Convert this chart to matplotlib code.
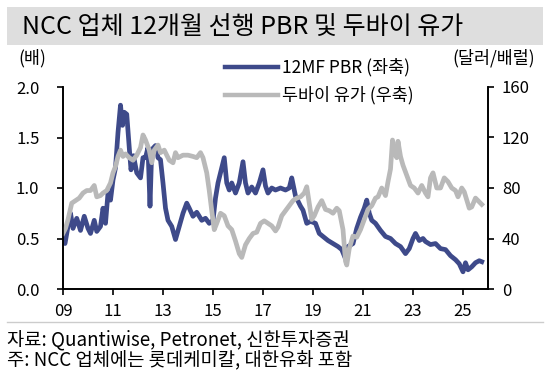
import matplotlib
matplotlib.use("Agg")
from matplotlib import pyplot as plt
from matplotlib.patches import Rectangle
from matplotlib.lines import Line2D

plt.rcParams['font.family'] = ['Noto Sans CJK KR', 'DejaVu Sans']

# 12MF PBR (left axis)
pbr_years = [2009.0, 2009.08, 2009.2, 2009.3, 2009.4, 2009.55, 2009.7, 2009.85, 2010.0, 2010.1,
             2010.25, 2010.35, 2010.5, 2010.6, 2010.7, 2010.8, 2010.9, 2011.0, 2011.1, 2011.2,
             2011.3, 2011.38, 2011.45, 2011.55, 2011.65, 2011.72, 2011.82, 2011.95, 2012.1, 2012.2,
             2012.3, 2012.4, 2012.48, 2012.55, 2012.7, 2012.8, 2012.9, 2013.0, 2013.1, 2013.2,
             2013.35, 2013.5, 2013.65, 2013.8, 2013.95, 2014.05, 2014.2, 2014.35, 2014.55, 2014.7,
             2014.85, 2015.0, 2015.1, 2015.2, 2015.3, 2015.45, 2015.55, 2015.65, 2015.75, 2015.9,
             2016.05, 2016.2, 2016.3, 2016.4, 2016.55, 2016.7, 2016.85, 2017.0, 2017.1, 2017.2,
             2017.35, 2017.5, 2017.7, 2017.9, 2018.05, 2018.15, 2018.3, 2018.5, 2018.6, 2018.75,
             2018.9, 2019.1, 2019.25, 2019.4, 2019.6, 2019.8, 2020.0, 2020.15, 2020.3, 2020.4,
             2020.6, 2020.75, 2020.9, 2021.05, 2021.15, 2021.25, 2021.35, 2021.5, 2021.7, 2021.9,
             2022.1, 2022.3, 2022.5, 2022.7, 2022.85, 2023.0, 2023.1, 2023.25, 2023.4, 2023.5,
             2023.7, 2023.9, 2024.1, 2024.3, 2024.5, 2024.7, 2024.85, 2025.0, 2025.1, 2025.2,
             2025.35, 2025.5, 2025.65, 2025.75]
pbr = [0.49, 0.45, 0.62, 0.75, 0.60, 0.70, 0.58, 0.72, 0.60, 0.55,
       0.68, 0.57, 0.62, 0.80, 0.65, 0.95, 0.88, 1.08, 1.20, 1.55,
       1.82, 1.62, 1.75, 1.73, 1.40, 1.18, 1.32, 1.15, 1.10, 1.30,
       1.30, 1.40, 0.82, 1.38, 1.42, 1.30, 1.28, 1.05, 0.80, 0.68,
       0.62, 0.49, 0.62, 0.75, 0.85, 0.80, 0.72, 0.76, 0.68, 0.70,
       0.65, 0.68, 0.90, 1.05, 1.15, 1.30, 1.05, 0.98, 1.05, 0.95,
       1.05, 1.26, 1.05, 0.95, 1.01, 0.95, 1.05, 1.18, 1.02, 0.95,
       1.00, 0.98, 1.00, 0.98, 1.00, 1.10, 0.92, 0.82, 0.78, 0.65,
       0.67, 0.65, 0.55, 0.52, 0.48, 0.45, 0.42, 0.39, 0.30, 0.42,
       0.45, 0.60, 0.71, 0.80, 0.88, 0.75, 0.68, 0.65, 0.58, 0.52,
       0.50, 0.45, 0.42, 0.35, 0.40, 0.50, 0.55, 0.48, 0.50, 0.47,
       0.44, 0.45, 0.40, 0.39, 0.33, 0.29, 0.25, 0.17, 0.26, 0.19,
       0.22, 0.26, 0.28, 0.27]

# Dubai crude, USD/bbl (right axis)
oil_years = [2009.0, 2009.1, 2009.2, 2009.35, 2009.5, 2009.65, 2009.8, 2009.95, 2010.1, 2010.25,
             2010.35, 2010.5, 2010.6, 2010.75, 2010.9, 2011.0, 2011.1, 2011.2, 2011.3, 2011.4,
             2011.5, 2011.65, 2011.8, 2011.95, 2012.1, 2012.2, 2012.3, 2012.45, 2012.55, 2012.65,
             2012.8, 2012.9, 2013.05, 2013.15, 2013.25, 2013.4, 2013.5, 2013.6, 2013.8, 2014.0,
             2014.2, 2014.35, 2014.5, 2014.6, 2014.75, 2014.85, 2014.95, 2015.05, 2015.15, 2015.3,
             2015.45, 2015.6, 2015.75, 2015.9, 2016.05, 2016.15, 2016.3, 2016.45, 2016.6, 2016.75,
             2016.9, 2017.05, 2017.2, 2017.35, 2017.5, 2017.6, 2017.75, 2017.9, 2018.05, 2018.2,
             2018.35, 2018.5, 2018.65, 2018.75, 2018.85, 2018.95, 2019.05, 2019.2, 2019.35, 2019.5,
             2019.65, 2019.8, 2019.95, 2020.05, 2020.2, 2020.3, 2020.35, 2020.45, 2020.6, 2020.75,
             2020.9, 2021.05, 2021.2, 2021.35, 2021.5, 2021.6, 2021.75, 2021.9, 2022.0, 2022.1,
             2022.18, 2022.25, 2022.35, 2022.4, 2022.5, 2022.6, 2022.75, 2022.9, 2023.05, 2023.2,
             2023.35, 2023.5, 2023.6, 2023.7, 2023.8, 2023.95, 2024.1, 2024.25, 2024.4, 2024.55,
             2024.7, 2024.8, 2024.95, 2025.05, 2025.25, 2025.35, 2025.5, 2025.6, 2025.75]
oil = [44, 48, 55, 68, 70, 72, 76, 78, 78, 82,
       73, 74, 76, 78, 84, 92, 97, 105, 110, 105,
       107, 104, 102, 106, 112, 122, 118, 110, 100, 110,
       114, 108, 110, 106, 102, 100, 108, 104, 106, 106,
       105, 104, 108, 104, 92, 78, 62, 47, 52, 60,
       58, 50, 47, 38, 28, 25, 35, 40, 44, 45,
       52, 54, 52, 50, 46, 49, 58, 62, 66, 70,
       72, 73, 76, 81, 68, 55, 58, 65, 70, 63,
       62, 60, 64, 62, 47, 22, 19, 32, 42, 41,
       47, 55, 63, 66, 72, 73, 80, 74, 85, 95,
       118, 108, 104, 117, 105, 98, 90, 82, 80, 76,
       82, 76, 73, 88, 92, 80, 80, 88, 85, 80,
       78, 73, 80, 77, 64, 65, 72, 70, 67]

year_ticks = [2009, 2011, 2013, 2015, 2017, 2019, 2021, 2023, 2025]
year_labels = ['09', '11', '13', '15', '17', '19', '21', '23', '25']

blue = '#3e4a8a'
grey = '#b9b9b9'
W, H = 560.0, 373.0

fig = plt.figure(figsize=(5.6, 3.73), dpi=100)
ax = fig.add_axes([63 / W, 1 - 289 / H, (488 - 63) / W, (289 - 87) / H])
ax2 = ax.twinx()

ax.plot(pbr_years, pbr, color=blue, lw=3.4, solid_joinstyle='round')
ax2.plot(oil_years, oil, color=grey, lw=3.4, solid_joinstyle='round')

ax.set_xlim(2009, 2026)
ax.set_ylim(0, 2.0)
ax2.set_ylim(0, 160)
ax.set_yticks([0, 0.5, 1.0, 1.5, 2.0])
ax.set_yticklabels(['0.0', '0.5', '1.0', '1.5', '2.0'])
ax2.set_yticks([0, 40, 80, 120, 160])
ax.set_xticks(year_ticks)
ax.set_xticklabels(year_labels)

for a in (ax, ax2):
    a.spines['top'].set_visible(False)
    for s in a.spines.values():
        s.set_linewidth(1.2)
    a.tick_params(direction='out', length=4, width=1.2, labelsize=12, pad=6)
ax.tick_params(axis='y', pad=13)
ax2.tick_params(axis='y', pad=6)

# legend, drawn by hand
for yy, col, lab in [(67, blue, '12MF PBR (좌축)'), (95, grey, '두바이 유가 (우축)')]:
    fig.add_artist(Line2D([225 / W, 278 / W], [1 - yy / H, 1 - yy / H],
                          transform=fig.transFigure, color=col, lw=3.2))
    fig.text(282 / W, 1 - yy / H, lab, fontsize=12.5, ha='left', va='center')

fig.text(32 / W, 1 - 58 / H, '(배)', fontsize=12.5, ha='center', va='center')
fig.text(494 / W, 1 - 58 / H, '(달러/배럴)', fontsize=12.5, ha='center', va='center')

# title band
fig.patches.append(Rectangle((7 / W, 1 - 45 / H), 536 / W, 38 / H, transform=fig.transFigure,
                             facecolor='#dedede', edgecolor='none'))
fig.text(22 / W, 1 - 27 / H, 'NCC 업체 12개월 선행 PBR 및 두바이 유가', fontsize=18,
         ha='left', va='center')

# footer
fig.add_artist(Line2D([7 / W, 543 / W], [1 - 322 / H, 1 - 322 / H], transform=fig.transFigure,
                      color='#cccccc', lw=1))
fig.text(7 / W, 1 - 340 / H, '자료: Quantiwise, Petronet, 신한투자증권', fontsize=13.5,
         ha='left', va='center')
fig.text(7 / W, 1 - 361 / H, '주: NCC 업체에는 롯데케미칼, 대한유화 포함', fontsize=13.5,
         ha='left', va='center')

plt.savefig('out.png', dpi=100)
